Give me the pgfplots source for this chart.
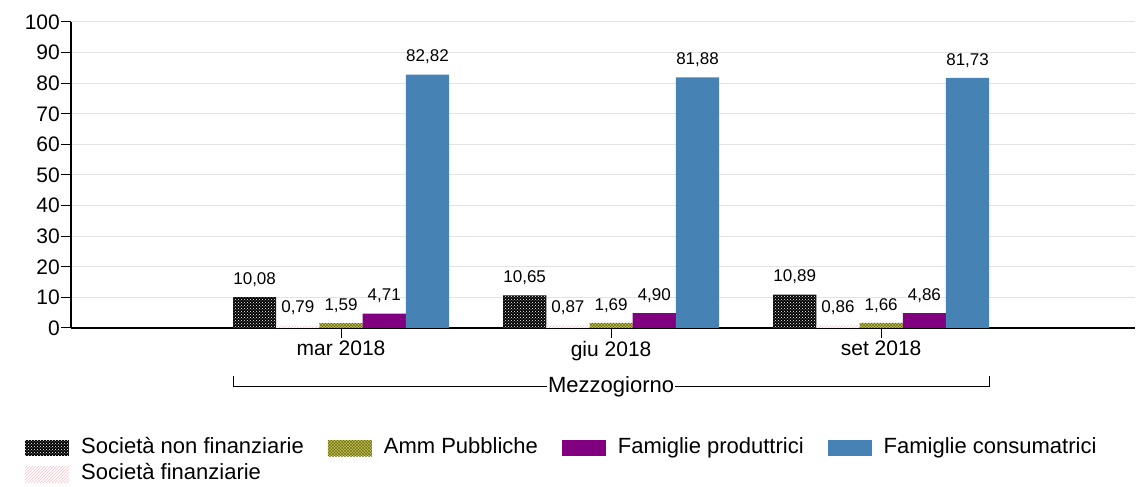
\documentclass[border=0pt]{standalone}
\usepackage{pgfplots}
\pgfplotsset{compat=1.18}
\usepackage{fontspec}
\setmainfont{Liberation Sans}
\usetikzlibrary{patterns}
\definecolor{famprod}{RGB}{128,0,128}
\definecolor{famcons}{RGB}{70,130,180}
\definecolor{ammfill}{RGB}{190,190,100}
\definecolor{ammline}{RGB}{110,110,0}
\definecolor{finpink}{RGB}{255,182,193}
\begin{document}
\begin{tikzpicture}
\begin{axis}[
  scale only axis, width=1064pt, height=306pt,
  ymin=0, ymax=100, ytick={0,10,...,100},
  xmin=-1, xmax=2.94, xtick={0,1,2},
  xticklabels={mar 2018, giu 2018, set 2018},
  axis x line*=bottom, axis y line*=left,
  axis line style={line width=1.2pt, black},
  ymajorgrids, grid style={line width=1pt, gray!22},
  tick align=outside, major tick length=10pt,
  tick style={black, line width=1pt},
  ticklabel style={font=\fontsize{21}{24}\selectfont},
  /pgf/number format/assume math mode=true,
  yticklabel style={inner sep=1pt},
  xticklabel style={inner sep=3pt},
  ybar=0pt, bar width=0.16,
  nodes near coords,
  every node near coord/.append style={font=\fontsize{17}{20}\selectfont, yshift=7pt,
     /pgf/number format/.cd, use comma, fixed, fixed zerofill, precision=2},
  clip=false,
  legend columns=4,
  legend image code/.code={\path[#1, draw=none] (0pt,-8pt) rectangle (44pt,8pt);},
  legend style={draw=none, fill=none, at={(-0.046,-0.352)}, anchor=north west,
    column sep=0pt, row sep=5pt,
    /tikz/every odd column/.append style={column sep=12pt},
    /tikz/every even column/.append style={column sep=24pt},
    nodes={font=\fontsize{22}{26}\selectfont, inner sep=0pt, text height=16pt, text depth=5pt, anchor=west}},
]
% Società non finanziarie
\addplot[bar shift=-0.32, draw=none, fill=black, postaction={pattern=crosshatch dots, pattern color=white}]
  coordinates {(0,10.08) (1,10.65) (2,10.89)};
\addlegendentry{Società non finanziarie}
% Amm Pubbliche
\addplot[bar shift=0, draw=none, fill=ammfill, postaction={pattern=crosshatch, pattern color=ammline}]
  coordinates {(0,1.59) (1,1.69) (2,1.66)};
\addlegendentry{Amm Pubbliche}
% Famiglie produttrici
\addplot[bar shift=0.16, draw=none, fill=famprod]
  coordinates {(0,4.71) (1,4.90) (2,4.86)};
\addlegendentry{Famiglie produttrici}
% Famiglie consumatrici
\addplot[bar shift=0.32, draw=none, fill=famcons]
  coordinates {(0,82.82) (1,81.88) (2,81.73)};
\addlegendentry{Famiglie consumatrici}
% Società finanziarie
\addplot[bar shift=-0.16, draw=none, fill=white, postaction={pattern=north east lines, pattern color=finpink}]
  coordinates {(0,0.79) (1,0.87) (2,0.86)};
\addlegendentry{Società finanziarie}
% category bracket
\draw[line width=1pt, black] ([yshift=-48pt]axis cs:-0.4,0) |- ([yshift=-59pt]axis cs:2.4,0) -- ([yshift=-48pt]axis cs:2.4,0);
\node[fill=white, inner sep=1pt, font=\fontsize{22}{26}\selectfont] at ([yshift=-59pt]axis cs:1,0) {Mezzogiorno};
% picture frame
\path ([xshift=-71pt,yshift=22pt]rel axis cs:0,1) -- ([xshift=5pt,yshift=-154pt]rel axis cs:1,0);
\end{axis}
\end{tikzpicture}
\end{document}
